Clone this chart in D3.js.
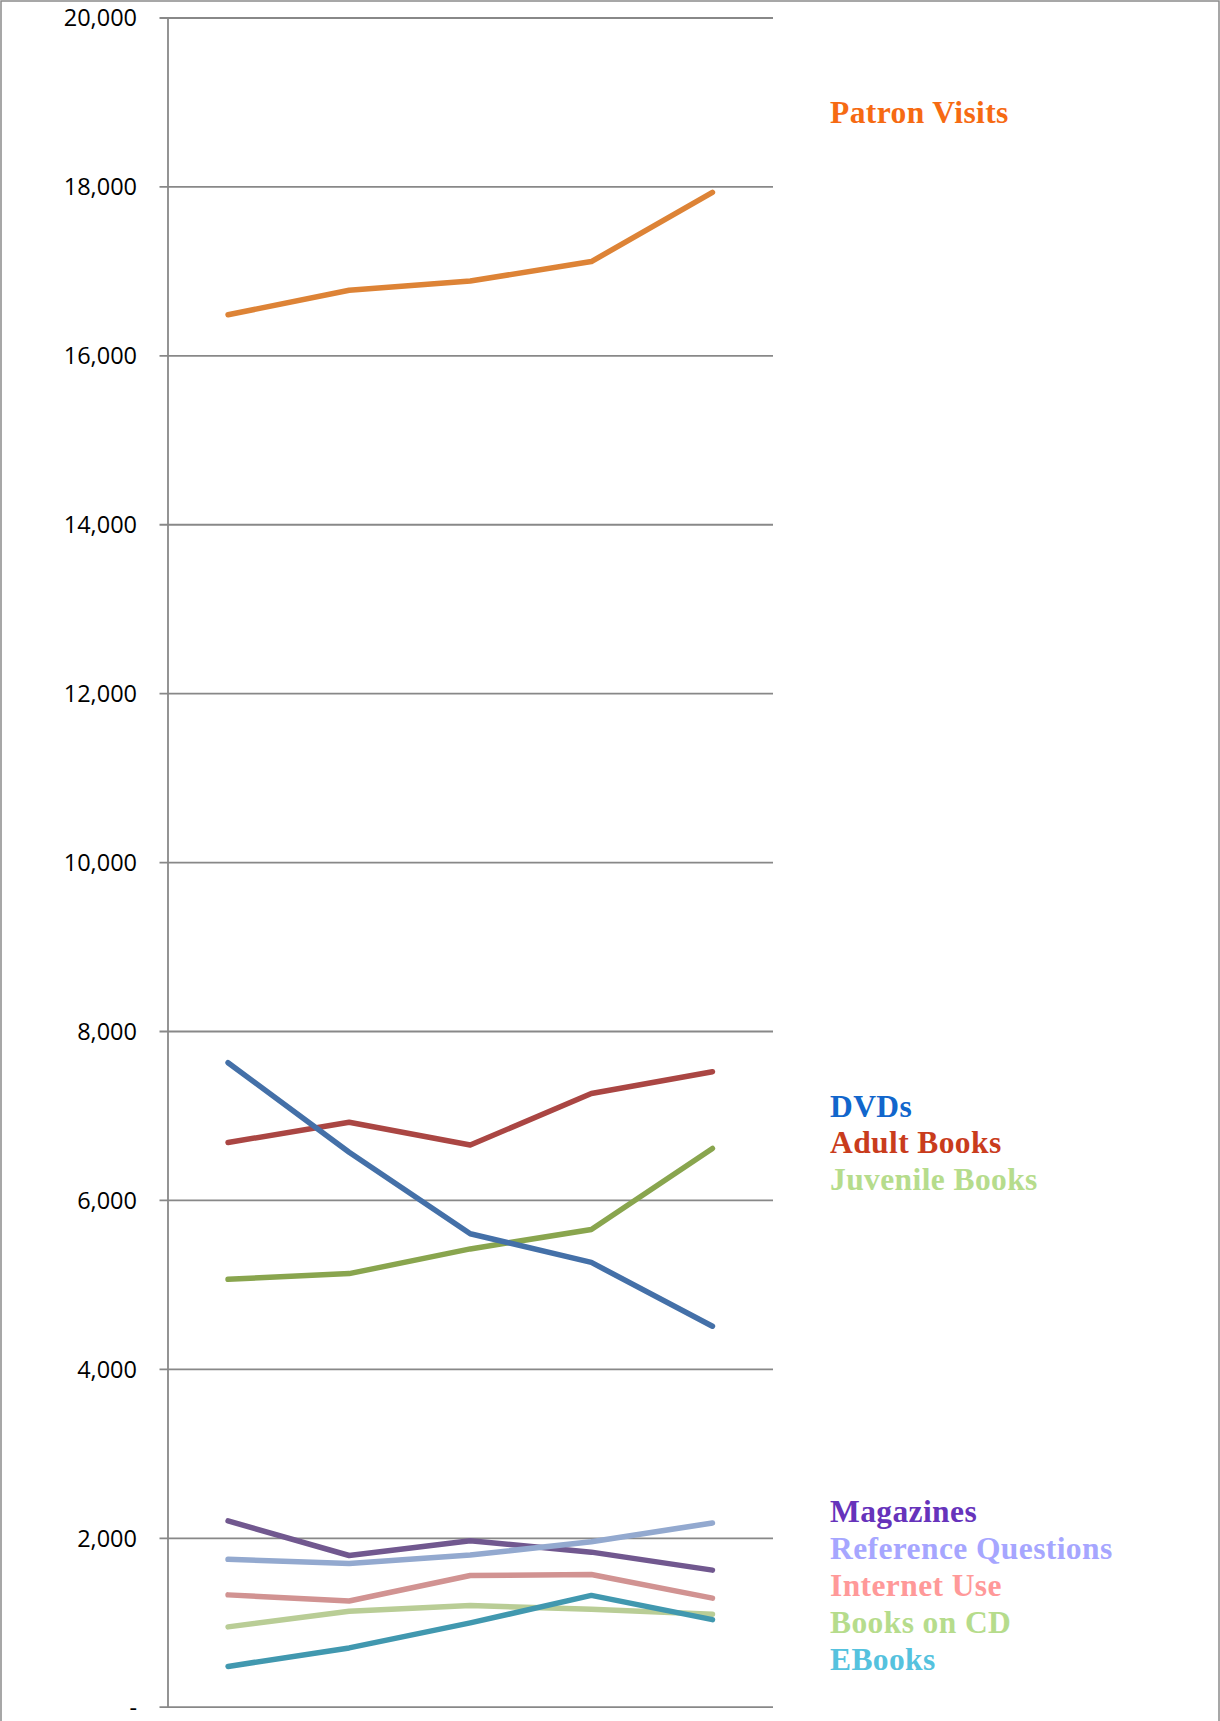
<!DOCTYPE html>
<html>
<head>
<meta charset="utf-8">
<script src="https://cdn.jsdelivr.net/npm/d3@7"></script>
<style>
  html, body { margin: 0; padding: 0; background: #fff; }
  svg { display: block; }
  .tick text { font-family: 'Open Sans', sans-serif; font-size: 23.5px; fill: #000; }
  .series-label { font-family: 'Liberation Serif', serif; font-weight: bold; font-size: 31.5px; letter-spacing: 0.4px; }
</style>
</head>
<body>
<div id="chart"></div>
<script>
// five reporting periods, no labels shown on the x axis
const periods = ['P1', 'P2', 'P3', 'P4', 'P5'];

const patronVisits       = [16480, 16770, 16880, 17110, 17930];
const dvds               = [7625, 6565, 5600, 5260, 4505];
const adultBooks         = [6680, 6920, 6650, 7260, 7518];
const juvenileBooks      = [5060, 5128, 5420, 5650, 6610];
const magazines          = [2200, 1790, 1965, 1830, 1617];
const referenceQuestions = [1745, 1695, 1796, 1953, 2176];
const internetUse        = [1324, 1252, 1553, 1566, 1285];
const booksOnCD          = [945, 1130, 1198, 1155, 1095];
const eBooks             = [477, 696, 992, 1318, 1031];

const yTicks = [0, 2000, 4000, 6000, 8000, 10000, 12000, 14000, 16000, 18000, 20000];

const width = 1220;
const height = 1721;
const margin = { top: 17.5, left: 167.5, right: 447, bottom: 14.3 };

const series = [
   { name: 'Patron Visits',       values: patronVisits,       line: '#dd8336', text: '#f66a12' },
   { name: 'Adult Books',         values: adultBooks,         line: '#aa4643', text: '#c93c1c' },
   { name: 'Juvenile Books',      values: juvenileBooks,      line: '#89a54e', text: '#b6dc8c' },
   { name: 'DVDs',                values: dvds,               line: '#4470a8', text: '#1166cc' },
   { name: 'Magazines',           values: magazines,          line: '#71588f', text: '#6633bb' },
   { name: 'Internet Use',        values: internetUse,        line: '#d19392', text: '#ff9999' },
   { name: 'Books on CD',         values: booksOnCD,          line: '#b9cd96', text: '#b6dc8c' },
   { name: 'EBooks',              values: eBooks,             line: '#4198af', text: '#55c2de' },
   { name: 'Reference Questions', values: referenceQuestions, line: '#93a9cf', text: '#a6a6ff' }
];

// label blocks on the right: first baseline and line spacing
const labelBlocks = [
   { names: ['Patron Visits'], y: 123, step: 0 },
   { names: ['DVDs', 'Adult Books', 'Juvenile Books'], y: 1117, step: 36.4 },
   { names: ['Magazines', 'Reference Questions', 'Internet Use', 'Books on CD', 'EBooks'], y: 1521.7, step: 37 }
];

const svg = d3.select('#chart').append('svg')
   .attr('width', width)
   .attr('height', height);

// outer chart frame (bottom edge falls outside the picture)
svg.append('rect')
   .attr('x', 1)
   .attr('y', 1)
   .attr('width', width - 2)
   .attr('height', height + 20)
   .attr('fill', 'none')
   .attr('stroke', '#8a8a8a')
   .attr('stroke-width', 1.5);

const x = d3.scalePoint()
   .domain(periods)
   .range([margin.left, width - margin.right])
   .padding(0.5);

const y = d3.scaleLinear()
   .domain([0, 20000])
   .range([height - margin.bottom, margin.top]);

const plotW = width - margin.right - margin.left;

const yAxis = d3.axisLeft(y)
   .tickValues(yTicks)
   .tickSize(-plotW)
   .tickSizeOuter(0)
   .tickPadding(30.5)
   .tickFormat(d => d === 0 ? '-' : d3.format(',')(d));

const gAxis = svg.append('g')
   .attr('transform', `translate(${margin.left},0)`)
   .call(yAxis);

gAxis.selectAll('.tick line')
   .attr('x1', -8)
   .attr('stroke', '#888')
   .attr('stroke-width', 1.8);

gAxis.select('.domain')
   .attr('stroke', '#888')
   .attr('stroke-width', 1.8);

gAxis.selectAll('.tick text')
   .attr('dy', '0.36em');

const line = d3.line()
   .x((d, i) => x(periods[i]))
   .y(d => y(d));

svg.append('g')
   .selectAll('path')
   .data(series)
   .join('path')
      .attr('d', d => line(d.values))
      .attr('fill', 'none')
      .attr('stroke', d => d.line)
      .attr('stroke-width', 5.5)
      .attr('stroke-linecap', 'round')
      .attr('stroke-linejoin', 'round');

const labelX = 830;
const byName = new Map(series.map(s => [s.name, s]));

labelBlocks.forEach(block => {
   svg.append('g')
      .selectAll('text')
      .data(block.names)
      .join('text')
         .attr('class', 'series-label')
         .attr('x', labelX)
         .attr('y', (d, i) => block.y + i * block.step)
         .attr('fill', d => byName.get(d).text)
         .text(d => d);
});
</script>
</body>
</html>
